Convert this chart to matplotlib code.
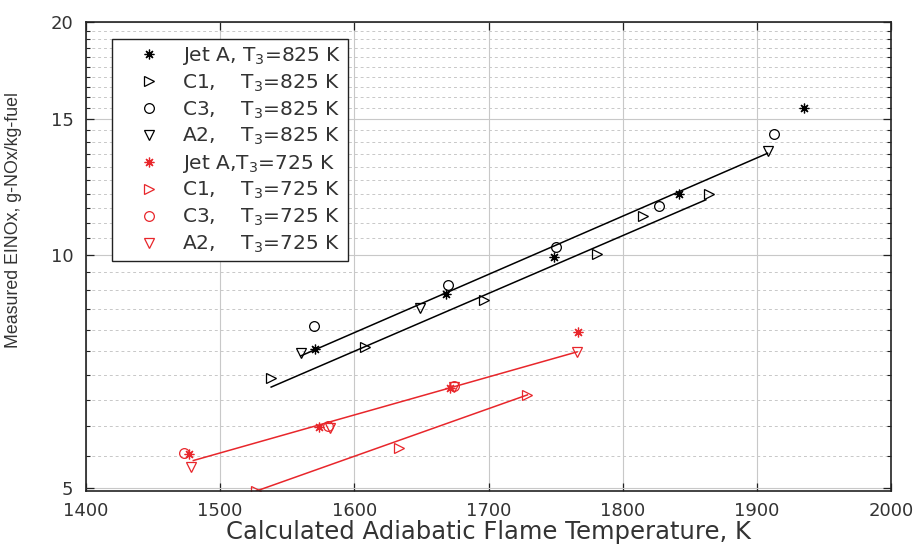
import numpy as np
import matplotlib
matplotlib.use("Agg")
import matplotlib.pyplot as plt
from matplotlib.ticker import FixedLocator, NullFormatter

plt.rcParams['font.family'] = ['DejaVu Sans']
plt.rcParams['mathtext.fontset'] = 'dejavusans'

# ---- data (T3 = 825 K, black) ----
jetA_825_x = [1571, 1668, 1749, 1842, 1935]
jetA_825_y = [7.55, 8.90, 9.93, 11.99, 15.5]
c1_825_x = [1538, 1608, 1697, 1781, 1815, 1864]
c1_825_y = [6.93, 7.61, 8.73, 10.03, 11.23, 11.99]
c3_825_x = [1570, 1670, 1750, 1827, 1913]
c3_825_y = [8.10, 9.14, 10.23, 11.57, 14.32]
a2_825_x = [1560, 1649, 1908]
a2_825_y = [7.46, 8.53, 13.62]

# ---- data (T3 = 725 K, red) ----
jetA_725_x = [1477, 1574, 1671, 1767]
jetA_725_y = [5.53, 5.99, 6.73, 7.95]
c1_725_x = [1527, 1633, 1729]
c1_725_y = [4.95, 5.63, 6.59]
c3_725_x = [1473, 1580, 1674]
c3_725_y = [5.55, 6.00, 6.76]
a2_725_x = [1478, 1582, 1674, 1766]
a2_725_y = [5.31, 5.98, 6.74, 7.49]

# ---- fit lines (end points) ----
fit_825_upper_x = [1560, 1908]
fit_825_upper_y = [7.40, 13.53]
fit_825_lower_x = [1538, 1862]
fit_825_lower_y = [6.745, 11.78]
fit_725_upper_x = [1480, 1766]
fit_725_upper_y = [5.42, 7.49]
fit_725_lower_x = [1527, 1729]
fit_725_lower_y = [4.95, 6.59]

x_ticks = [1400, 1500, 1600, 1700, 1800, 1900, 2000]
y_ticks = [5, 10, 15, 20]
y_minor = [v for v in np.arange(5.5, 20.0, 0.5) if v not in (10.0, 15.0)]

W, H = 921, 544
fig = plt.figure(figsize=(W / 100, H / 100), dpi=100)
ax = fig.add_axes([86 / W, 1 - 491 / H, (891 - 86) / W, (491 - 22) / H])

red = '#e8262b'
ms = 7
mew = 0.9
ast = (8, 2, 0)

# fit lines
ax.plot(fit_825_upper_x, fit_825_upper_y, color='black', lw=1.1)
ax.plot(fit_825_lower_x, fit_825_lower_y, color='black', lw=1.1)
ax.plot(fit_725_upper_x, fit_725_upper_y, color=red, lw=1.1)
ax.plot(fit_725_lower_x, fit_725_lower_y, color=red, lw=1.1)

kw = dict(linestyle='none', markersize=ms, markeredgewidth=mew, markerfacecolor='none')
ax.plot(jetA_825_x, jetA_825_y, marker=ast, color='black', label='Jet A, T$_3$=825 K', **kw)
ax.plot(c1_825_x, c1_825_y, marker='>', color='black', label='C1,    T$_3$=825 K', **kw)
ax.plot(c3_825_x, c3_825_y, marker='o', color='black', label='C3,    T$_3$=825 K', **kw)
ax.plot(a2_825_x, a2_825_y, marker='v', color='black', label='A2,    T$_3$=825 K', **kw)
ax.plot(jetA_725_x, jetA_725_y, marker=ast, color=red, label='Jet A,T$_3$=725 K', **kw)
ax.plot(c1_725_x, c1_725_y, marker='>', color=red, label='C1,    T$_3$=725 K', **kw)
ax.plot(c3_725_x, c3_725_y, marker='o', color=red, label='C3,    T$_3$=725 K', **kw)
ax.plot(a2_725_x, a2_725_y, marker='v', color=red, label='A2,    T$_3$=725 K', **kw)

ax.set_yscale('log')
ax.set_xlim(1400, 2000)
ax.set_ylim(4.95, 20)
ax.xaxis.set_major_locator(FixedLocator(x_ticks))
ax.set_xticklabels([str(v) for v in x_ticks])
ax.yaxis.set_major_locator(FixedLocator(y_ticks))
ax.set_yticklabels([str(v) for v in y_ticks])
ax.yaxis.set_minor_locator(FixedLocator(y_minor))
ax.yaxis.set_minor_formatter(NullFormatter())
ax.xaxis.set_minor_locator(FixedLocator([]))

ax.grid(True, which='major', color='#c8c8c8', lw=0.8, linestyle='-')
ax.grid(True, which='minor', axis='y', color='#c8c8c8', lw=0.7, linestyle=(0, (3, 3)))
ax.set_axisbelow(True)

ax.tick_params(which='both', direction='in', top=True, right=True, colors='#222222',
               labelsize=13, labelcolor='#333333')
ax.tick_params(which='major', length=6, width=0.9)
ax.tick_params(which='minor', length=3, width=0.8)
ax.tick_params(axis='x', which='major', pad=8)
ax.tick_params(axis='y', which='major', pad=9)
for s in ax.spines.values():
    s.set_linewidth(1.2)
    s.set_color('#222222')

ax.set_xlabel('Calculated Adiabatic Flame Temperature, K', fontsize=17.5, color='#333333', labelpad=0)
ax.set_ylabel('Measured EINOx, g-NOx/kg-fuel', fontsize=12.8, color='#333333',
              family=['Liberation Sans', 'DejaVu Sans'])
ax.yaxis.set_label_coords((22 - 86) / 805, (491 - 220) / 469)

leg = ax.legend(loc='upper left', bbox_to_anchor=(26 / 805, 1 - 17 / 469), borderaxespad=0,
                fontsize=14.5, frameon=True, fancybox=False, framealpha=1, edgecolor='#222222',
                labelspacing=0.27, handlelength=3.1, handletextpad=0.1, borderpad=0.3)
leg.get_frame().set_linewidth(1.0)
for t in leg.get_texts():
    t.set_color('#333333')

fig.savefig('out.png', dpi=100)
